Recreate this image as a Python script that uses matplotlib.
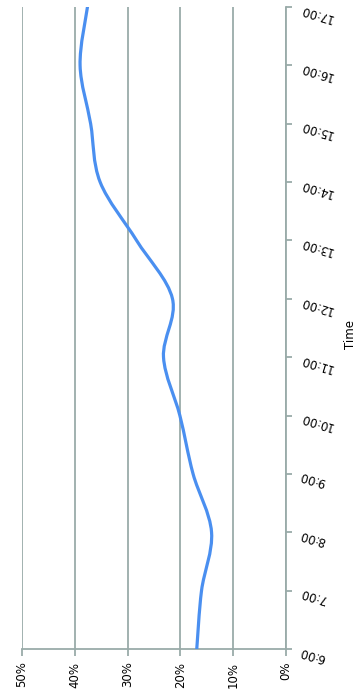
import matplotlib
matplotlib.use("Agg")
import matplotlib.pyplot as plt
from matplotlib.path import Path
from matplotlib.patches import PathPatch

# data (hourly share, %)
hours = [6, 7, 8, 9, 10, 11, 12, 13, 14, 15, 16, 17]
time_labels = ["6:00", "7:00", "8:00", "9:00", "10:00", "11:00",
               "12:00", "13:00", "14:00", "15:00", "16:00", "17:00"]
share = [16.9, 16.0, 14.1, 17.6, 20.1, 23.2, 21.5, 28.3, 35.2, 37.0, 39.0, 37.6]
pct_ticks = [0, 10, 20, 30, 40, 50]
pct_labels = ["0%", "10%", "20%", "30%", "40%", "50%"]

GRID = "#9aaba9"
LINE = "#4a8ff0"


def smooth_path(xs, ys):
    # spreadsheet-style smoothed line: cubic bezier through every point
    pts = list(zip(xs, ys))
    n = len(pts)
    verts = [pts[0]]
    codes = [Path.MOVETO]
    for i in range(n - 1):
        p0 = pts[max(i - 1, 0)]
        p1 = pts[i]
        p2 = pts[i + 1]
        p3 = pts[min(i + 2, n - 1)]
        c1 = (p1[0] + (p2[0] - p0[0]) / 6, p1[1] + (p2[1] - p0[1]) / 6)
        c2 = (p2[0] - (p3[0] - p1[0]) / 6, p2[1] - (p3[1] - p1[1]) / 6)
        verts += [c1, c2, p2]
        codes += [Path.CURVE4] * 3
    return Path(verts, codes)


fig = plt.figure(figsize=(3.56, 7.0), dpi=100)
ax = fig.add_axes([22 / 356, 1 - 649 / 700, 264 / 356, 642 / 700])

# chart is drawn on its side: share runs right-to-left, time runs upward
ax.set_xlim(50, 0)
ax.set_ylim(6, 17)

ax.add_patch(PathPatch(smooth_path(share, hours), facecolor="none",
                       edgecolor=LINE, linewidth=2.3, capstyle="round", zorder=3))

ax.set_xticks(pct_ticks)
ax.set_xticklabels(pct_labels, rotation=90, fontsize=8.5)
ax.set_yticks(hours)
ax.set_yticklabels(time_labels, rotation=163, fontsize=8.5)
ax.yaxis.tick_right()

ax.grid(axis="x", color=GRID, linewidth=1.3)
ax.set_axisbelow(True)
for side in ["left", "top"]:
    ax.spines[side].set_visible(False)
for side in ["right", "bottom"]:
    ax.spines[side].set_color(GRID)
    ax.spines[side].set_linewidth(1.3)

ax.tick_params(axis="x", direction="out", length=5, width=1.3, color=GRID, pad=4)
ax.tick_params(axis="y", direction="out", length=4, width=1.3, color=GRID, pad=5)

ax.yaxis.set_label_position("right")
ax.set_ylabel("Time", fontsize=8.5, rotation=90)
ax.yaxis.set_label_coords(1.22, 0.49)

fig.savefig("out.png", dpi=100)
